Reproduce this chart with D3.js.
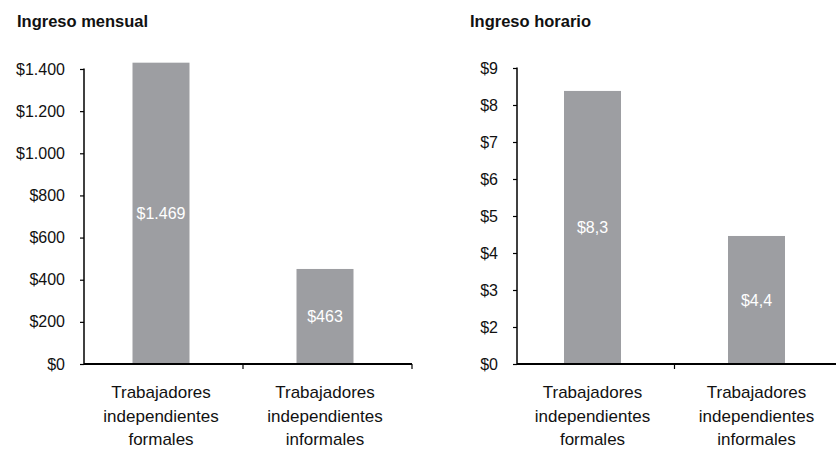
<!DOCTYPE html>
<html>
<head>
<meta charset="utf-8">
<script src="https://cdn.jsdelivr.net/npm/d3@7"></script>
<style>
  html, body { margin: 0; padding: 0; background: #fff; }
  svg { display: block; font-family: "Liberation Sans", Arial, sans-serif; }
</style>
</head>
<body>
<svg id="chart" width="837" height="451"></svg>
<script>
// ---- data ----
const categories = [
  ["Trabajadores", "independientes", "formales"],
  ["Trabajadores", "independientes", "informales"]
];
const monthlyTitle = "Ingreso mensual";
const monthlyValues = [1430, 451];          // bar heights as drawn
const monthlyLabels = ["$1.469", "$463"];   // printed labels
const monthlyTicks = [0, 200, 400, 600, 800, 1000, 1200, 1400];
const monthlyTickLabels = ["$0", "$200", "$400", "$600", "$800", "$1.000", "$1.200", "$1.400"];

const hourlyTitle = "Ingreso horario";
const hourlyValues = [8.38, 4.46];
const hourlyLabels = ["$8,3", "$4,4"];
// the original axis skips $1: ticks are evenly spaced
const hourlyTicks = [0, 2, 3, 4, 5, 6, 7, 8, 9];
const hourlyTickLabels = ["$0", "$2", "$3", "$4", "$5", "$6", "$7", "$8", "$9"];

// ---- layout / style ----
const barColor = "#9d9ea2";
const svg = d3.select("#chart");

function panel(cfg) {
  const g = svg.append("g");
  const yBottom = 364;
  const step = (yBottom - cfg.top) / (cfg.ticks.length - 1);
  // polylinear scale so ticks are evenly spaced as in the original
  const y = d3.scaleLinear()
    .domain(cfg.ticks)
    .range(cfg.ticks.map((d, i) => yBottom - i * step));
  const x = d3.scaleBand().domain(d3.range(cfg.values.length)).range(cfg.xRange).padding(0);
  const barW = 57;
  const yMax = cfg.ticks[cfg.ticks.length - 1];

  // title
  g.append("text")
    .attr("x", cfg.titleX).attr("y", 27)
    .attr("font-weight", "bold").attr("font-size", 16.5)
    .attr("fill", "#111")
    .text(cfg.title);

  // bars
  g.selectAll("rect.bar").data(cfg.values).enter().append("rect")
    .attr("class", "bar")
    .attr("x", (d, i) => x(i) + x.bandwidth() / 2 - barW / 2)
    .attr("width", barW)
    .attr("y", d => y(d))
    .attr("height", d => y(0) - y(d))
    .attr("fill", barColor);

  // value labels
  g.selectAll("text.val").data(cfg.values).enter().append("text")
    .attr("class", "val")
    .attr("x", (d, i) => x(i) + x.bandwidth() / 2)
    .attr("y", d => (y(d) + y(0)) / 2)
    .attr("dy", "0.35em")
    .attr("text-anchor", "middle")
    .attr("font-size", 16)
    .attr("fill", "#fff")
    .text((d, i) => cfg.labels[i]);

  // y axis
  const yAxis = d3.axisLeft(y)
    .tickValues(cfg.ticks)
    .tickFormat((d, i) => cfg.tickLabels[i])
    .tickSize(4).tickPadding(15);
  const ya = g.append("g").attr("transform", `translate(${cfg.axisX},0)`).call(yAxis);
  ya.select(".domain").remove();
  ya.append("line").attr("x1", 0).attr("x2", 0)
    .attr("y1", y(0)).attr("y2", y(yMax) - 0.5)
    .attr("stroke", "#000").attr("stroke-width", 1.5);
  ya.selectAll(".tick line").attr("stroke", "#000").attr("stroke-width", 1.2);
  ya.selectAll(".tick text").attr("font-size", 16).attr("fill", "#111")
    .attr("font-family", "Liberation Sans, Arial, sans-serif");

  // x baseline
  g.append("line")
    .attr("x1", cfg.axisX).attr("x2", cfg.baseEnd)
    .attr("y1", y(0)).attr("y2", y(0))
    .attr("stroke", "#000").attr("stroke-width", 1.8);
  // category boundary ticks
  const bounds = d3.range(1, cfg.values.length).map(i => x(i));
  if (cfg.endTick) bounds.push(cfg.baseEnd);
  g.selectAll("line.ctick").data(bounds).enter().append("line")
    .attr("class", "ctick")
    .attr("x1", d => d).attr("x2", d => d)
    .attr("y1", y(0)).attr("y2", y(0) + 5)
    .attr("stroke", "#000").attr("stroke-width", 1.2);

  // category labels
  categories.forEach((lines, i) => {
    const t = g.append("text")
      .attr("x", x(i) + x.bandwidth() / 2)
      .attr("y", 398)
      .attr("text-anchor", "middle")
      .attr("font-size", 17)
      .attr("fill", "#111");
    lines.forEach((ln, j) => {
      t.append("tspan").attr("x", x(i) + x.bandwidth() / 2)
        .attr("dy", j === 0 ? 0 : 23.5).text(ln);
    });
  });
}

panel({
  title: monthlyTitle, titleX: 17,
  values: monthlyValues, labels: monthlyLabels,
  ticks: monthlyTicks, tickLabels: monthlyTickLabels,
  top: 69,
  xRange: [79, 407], axisX: 84, baseEnd: 412, endTick: true
});

panel({
  title: hourlyTitle, titleX: 470,
  values: hourlyValues, labels: hourlyLabels,
  ticks: hourlyTicks, tickLabels: hourlyTickLabels,
  top: 68,
  xRange: [510.5, 838.5], axisX: 517, baseEnd: 836, endTick: false
});
</script>
</body>
</html>
